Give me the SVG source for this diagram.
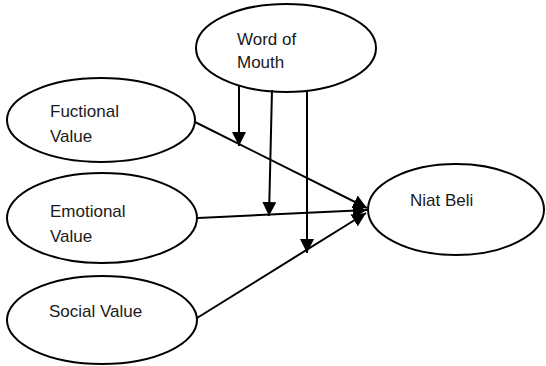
<svg xmlns="http://www.w3.org/2000/svg" width="546" height="366" viewBox="0 0 546 366">
<style>
.node ellipse{fill:#fff;stroke:#000;stroke-width:2}
.node text{font-family:"Liberation Sans",Arial,sans-serif;font-size:17px;fill:#1a1a1a}
.conn line{stroke:#000;stroke-width:2;marker-end:url(#arr)}
</style>
<defs>
<marker id="arr" viewBox="0 0 14 14" refX="14" refY="7" markerWidth="14" markerHeight="14" orient="auto" markerUnits="userSpaceOnUse">
<path d="M0,0 L14,7 L0,14 z" fill="#000"/>
</marker>
</defs>
<rect width="546" height="366" fill="#fff"/>
<g id="word-of-mouth" class="node">
<ellipse cx="286" cy="48" rx="90" ry="44"/>
<text x="237" y="45">Word of</text>
<text x="237" y="68">Mouth</text>
</g>
<g id="fuctional-value" class="node">
<ellipse cx="101" cy="120" rx="94" ry="42"/>
<text x="50" y="117">Fuctional</text>
<text x="50" y="142">Value</text>
</g>
<g id="emotional-value" class="node">
<ellipse cx="102" cy="218" rx="95" ry="45"/>
<text x="50" y="217">Emotional</text>
<text x="50" y="242">Value</text>
</g>
<g id="social-value" class="node">
<ellipse cx="102" cy="320" rx="95" ry="44"/>
<text x="49" y="317">Social Value</text>
</g>
<g id="niat-beli" class="node">
<ellipse cx="456" cy="209.5" rx="88" ry="45.5"/>
<text x="410" y="206">Niat Beli</text>
</g>
<g id="connectors" class="conn">
<line x1="195" y1="122" x2="367" y2="208"/>
<line x1="198" y1="218" x2="367" y2="210"/>
<line x1="197" y1="318" x2="366" y2="213"/>
<line x1="239" y1="85" x2="239" y2="146"/>
<line x1="272" y1="90" x2="269" y2="216"/>
<line x1="307" y1="91" x2="307" y2="253"/>
</g>
</svg>
